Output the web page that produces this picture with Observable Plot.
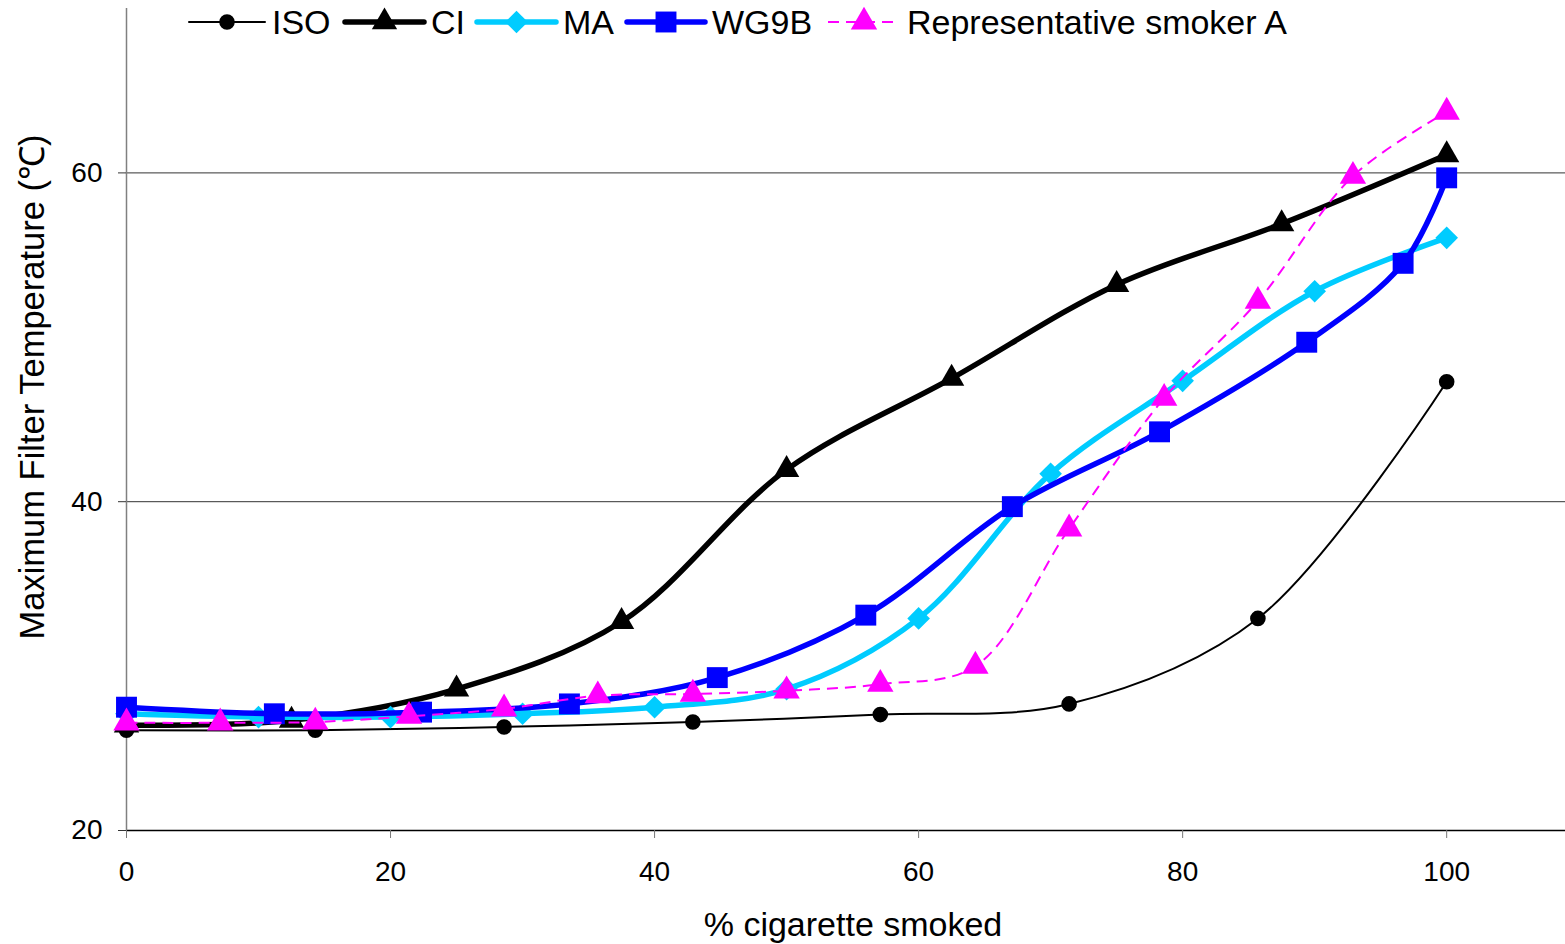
<!DOCTYPE html>
<html>
<head>
<meta charset="utf-8">
<script src="https://cdn.jsdelivr.net/npm/d3@7"></script>
<script src="https://cdn.jsdelivr.net/npm/@observablehq/plot@0.6"></script>
<style>
  html, body { margin: 0; padding: 0; background: #fff; }
  #wrap { position: relative; width: 1565px; height: 944px; font-family: "Liberation Sans", Arial, sans-serif; color: #000; }
  #chart { position: absolute; left: 0; top: 0; }
  .lg { position: absolute; top: 4px; height: 36px; display: flex; align-items: center; font-size: 34px; white-space: nowrap; }
  .lg svg { display: block; margin-right: 7px; overflow: visible; }
  #ytitle { position: absolute; left: 30px; top: 387px; transform: translate(-50%, -50%) rotate(-90deg); font-size: 34.5px; white-space: nowrap; }
  #xtitle { position: absolute; left: 853px; top: 924px; transform: translate(-50%, -50%); font-size: 34px; white-space: nowrap; }
</style>
</head>
<body>
<div id="wrap">
  <div id="chart"></div>
  <div id="ytitle">Maximum Filter Temperature (℃)</div>
  <div id="xtitle">% cigarette smoked</div>
</div>
<script>
// ---- data ----
const isoX = [0, 14.3, 28.6, 42.9, 57.1, 71.4, 85.7, 100];
const isoY = [26.1, 26.1, 26.3, 26.6, 27.05, 27.7, 32.9, 47.3];

const ciX = [0, 12.5, 25, 37.5, 50, 62.5, 75, 87.5, 100];
const ciY = [26.4, 26.7, 28.6, 32.7, 41.95, 47.5, 53.2, 56.9, 61.1];

const maX = [0, 10, 20, 30, 40, 50, 60, 70, 80, 90, 100];
const maY = [27.1, 26.9, 26.9, 27.1, 27.5, 28.6, 32.9, 41.7, 47.35, 52.8, 56.05];

const wgX = [0, 11.2, 22.35, 33.55, 44.75, 56.0, 67.1, 78.25, 89.4, 96.7, 100];
const wgY = [27.5, 27.1, 27.2, 27.7, 29.3, 33.1, 39.7, 44.25, 49.7, 54.5, 59.7];

const smX = [0, 7.1, 14.3, 21.4, 28.6, 35.7, 42.9, 50, 57.1, 64.3, 71.4, 78.6, 85.7, 92.9, 100];
const smY = [26.55, 26.55, 26.6, 26.95, 27.4, 28.2, 28.3, 28.5, 28.9, 30.0, 38.35, 46.3, 52.2, 59.8, 63.7];

const seriesNames = ["ISO", "CI", "MA", "WG9B", "Representative smoker A"];
const xTicks = [0, 20, 40, 60, 80, 100];
const yTicks = [20, 40, 60];
const gridY = [40, 60];

// ---- styles ----
const styles = [
  {color: "#000000", width: 2,   dash: null,   symbol: "circle",   r: 7.8},
  {color: "#000000", width: 5.5, dash: null,   symbol: "triangle", r: 9.4},
  {color: "#00CCFF", width: 5.5, dash: null,   symbol: "diamond2", r: 10.2},
  {color: "#0000FF", width: 5.5, dash: null,   symbol: "square",   r: 11.8},
  {color: "#FF00FF", width: 2,   dash: "11,7", symbol: "triangle", r: 9.8}
];
const legendLeft = [189, 345, 477, 627, 828];
const legendLineW = [76, 79, 79, 78, 72];

const raw = [[isoX, isoY], [ciX, ciY], [maX, maY], [wgX, wgY], [smX, smY]];
const series = raw.map(([xs, ys], i) => xs.map((x, j) => ({name: seriesNames[i], x, y: ys[j]})));

const marks = [
  Plot.ruleY(gridY, {stroke: "#333", strokeWidth: 1}),
  Plot.ruleY([20], {stroke: "#000", strokeWidth: 1.5}),
  Plot.ruleX([0], {stroke: "#808080", strokeWidth: 1.5}),
  Plot.axisX({ticks: xTicks, tickSize: 8, tickPadding: 23, label: null, stroke: "#777", tickFormat: d => d}),
  Plot.axisY({ticks: yTicks, tickSize: 8, tickPadding: 16, label: null, stroke: "#333", tickFormat: d => d})
];
series.forEach((data, i) => {
  const s = styles[i];
  marks.push(Plot.line(data, {x: "x", y: "y", stroke: s.color, strokeWidth: s.width,
    strokeDasharray: s.dash || undefined, curve: "catmull-rom", strokeLinejoin: "round", strokeLinecap: s.dash ? "butt" : "round"}));
  marks.push(Plot.dot(data, {x: "x", y: "y", symbol: () => s.symbol, r: s.r, fill: s.color, stroke: "none"}));
});

const chart = Plot.plot({
  width: 1565,
  height: 944,
  marginLeft: 126,
  marginRight: 0,
  marginTop: 8,
  marginBottom: 114,
  x: {domain: [0, 109]},
  y: {domain: [20, 70]},
  symbol: {domain: ["circle", "triangle", "diamond2", "square"], range: ["circle", "triangle", "diamond2", "square"]},
  style: {fontFamily: "'Liberation Sans', Arial, sans-serif", fontSize: "28px", color: "#000", background: "#fff", overflow: "visible"},
  marks
});
document.getElementById("chart").appendChild(chart);

// ---- legend ----
const wrap = document.getElementById("wrap");
const symMap = {circle: d3.symbolCircle, triangle: d3.symbolTriangle, diamond2: d3.symbolDiamond2, square: d3.symbolSquare};
seriesNames.forEach((name, i) => {
  const s = styles[i];
  const w = legendLineW[i];
  const div = document.createElement("div");
  div.className = "lg";
  div.style.left = legendLeft[i] + "px";
  const svg = d3.create("svg").attr("width", w).attr("height", 36);
  svg.append("line").attr("x1", 0).attr("x2", w).attr("y1", 18).attr("y2", 18)
    .attr("stroke", s.color).attr("stroke-width", s.width)
    .attr("stroke-dasharray", s.dash).attr("stroke-linecap", s.dash ? "butt" : "round");
  svg.append("path").attr("transform", `translate(${w / 2},18)`)
    .attr("d", d3.symbol(symMap[s.symbol], Math.PI * s.r * s.r)())
    .attr("fill", s.color);
  div.appendChild(svg.node());
  const span = document.createElement("span");
  span.textContent = name;
  div.appendChild(span);
  wrap.appendChild(div);
});
</script>
</body>
</html>
